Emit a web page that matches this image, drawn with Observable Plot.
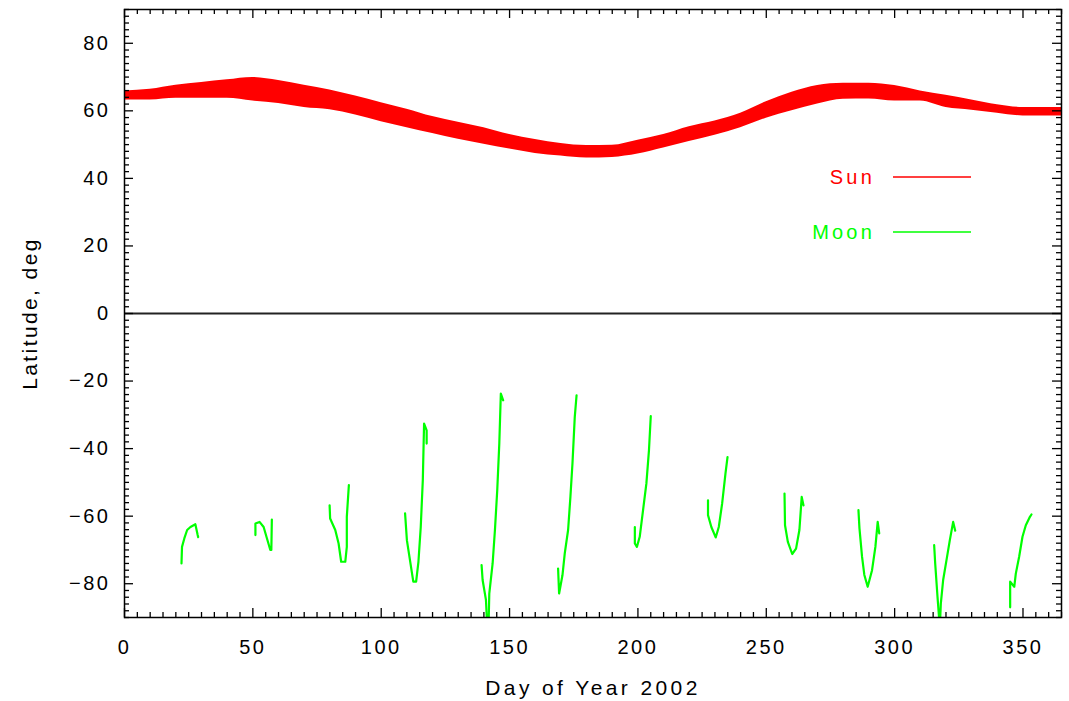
<!DOCTYPE html>
<html><head><meta charset="utf-8">
<script src="https://cdn.jsdelivr.net/npm/d3@7"></script>
<script src="https://cdn.jsdelivr.net/npm/@observablehq/plot@0.6"></script>
<style>
body{margin:0;background:#fff}
svg text{font-family:"Liberation Sans", Arial, Helvetica, sans-serif;}
</style>
</head><body><div id="chart"></div>
<script>
// ---- Sun band (latitude range per day) ----
const sunDay  = [0, 10, 20, 30, 40, 50, 60, 70, 80, 90, 100, 110, 120, 130, 140, 150, 160, 170, 180, 190, 200, 210, 220, 230, 240, 250, 260, 270, 280, 290, 300, 310, 320, 330, 340, 350, 365];
const sunHigh = [65.9, 66.4, 67.6, 68.4, 69.2, 69.9, 69.0, 67.6, 66.2, 64.4, 62.4, 60.5, 58.3, 56.6, 55.0, 53.0, 51.5, 50.3, 49.7, 49.8, 51.3, 53.0, 55.3, 57.0, 59.3, 62.7, 65.5, 67.5, 68.2, 68.2, 67.5, 65.9, 64.6, 63.2, 61.8, 61.0, 61.0];
const sunLow  = [63.2, 63.2, 63.7, 63.7, 63.7, 62.9, 62.2, 61.0, 60.3, 58.8, 56.8, 55.0, 53.3, 51.6, 50.1, 48.7, 47.4, 46.6, 46.0, 46.2, 47.2, 49.0, 50.9, 52.8, 55.0, 57.8, 60.0, 62.0, 63.4, 63.5, 62.9, 62.9, 61.0, 60.2, 59.3, 58.5, 58.5];

// ---- Moon passes ----
const moonDay = [
  22.2, 22.4, 23.3, 24.4, 25.7, 27.6, 28.5, 28.7,
  51.0, 51.0, 52.6, 54.2, 55.5, 56.8, 57.2, 57.4,
  79.9, 80.1, 82.1, 83.4, 84.4, 86.0, 86.6, 86.6, 87.4,
  109.3, 110.0, 111.2, 112.5, 113.6, 114.5, 115.4, 116.2, 116.7, 117.7, 117.7,
  139.1, 139.5, 140.8, 141.3, 141.8, 142.1, 143.4, 144.3, 145.2, 146.0, 146.6, 147.5,
  168.9, 169.3, 170.6, 171.5, 172.8, 173.7, 174.5, 175.4, 176.1,
  198.8, 198.8, 199.6, 200.7, 202.0, 203.3, 204.3, 205.0,
  227.3, 227.3, 228.6, 230.3, 231.5, 232.8, 234.1, 234.9,
  257.1, 257.3, 258.4, 260.1, 261.6, 262.9, 263.8, 264.5,
  285.9, 286.3, 287.3, 288.2, 289.5, 291.2, 292.5, 293.4, 294.0,
  315.4, 315.8, 316.7, 317.6, 318.0, 318.9, 320.2, 321.5, 322.8, 323.6,
  345.0, 345.0, 346.6, 347.2, 348.5, 349.8, 351.1, 352.7, 353.3
];
const moonLat = [
  -74.0, -69.1, -66.6, -64.1, -63.2, -62.4, -65.6, -66.2,
  -65.6, -62.2, -61.7, -63.2, -66.6, -70.0, -70.0, -61.0,
  -56.8, -60.7, -64.1, -68.1, -73.5, -73.5, -69.1, -60.2, -50.8,
  -59.2, -67.1, -73.0, -79.4, -79.4, -73.5, -63.2, -49.4, -32.6, -34.6, -38.5,
  -74.5, -78.9, -84.8, -93.0, -93.0, -82.9, -74.0, -64.1, -52.3, -38.5, -23.7, -25.7,
  -75.5, -82.9, -77.5, -71.0, -64.1, -54.3, -44.4, -30.6, -24.2,
  -63.2, -68.1, -69.1, -66.1, -58.2, -50.3, -40.5, -30.4,
  -55.3, -59.7, -63.2, -66.3, -63.2, -56.3, -47.4, -42.5,
  -53.3, -62.7, -67.6, -71.2, -69.6, -64.1, -54.3, -56.8,
  -58.2, -63.6, -72.0, -77.4, -80.9, -76.0, -69.1, -61.7, -65.1,
  -68.6, -74.0, -83.9, -93.0, -85.8, -78.9, -73.0, -67.1, -61.7, -64.3,
  -87.0, -79.4, -80.9, -77.0, -72.0, -66.1, -62.7, -60.2, -59.5
];
const moonPass = [
  1,1,1,1,1,1,1,1,
  2,2,2,2,2,2,2,2,
  3,3,3,3,3,3,3,3,3,
  4,4,4,4,4,4,4,4,4,4,4,
  5,5,5,5,5,5,5,5,5,5,5,5,
  6,6,6,6,6,6,6,6,6,
  7,7,7,7,7,7,7,7,
  8,8,8,8,8,8,8,8,
  9,9,9,9,9,9,9,9,
  10,10,10,10,10,10,10,10,10,
  11,11,11,11,11,11,11,11,11,11,
  12,12,12,12,12,12,12,12,12
];

// ---- Axes ----
const xTicks = [0, 50, 100, 150, 200, 250, 300, 350];
const yTicks = [-80, -60, -40, -20, 0, 20, 40, 60, 80];
const seriesNames = ["Sun", "Moon"];
const seriesColors = ["#ff0000", "#00ff00"];
const xLabel = "Day of Year 2002";
const yLabel = "Latitude, deg";

const sun = sunDay.map((d, i) => ({day: d, high: sunHigh[i], low: sunLow[i]}));
const moon = moonDay.map((d, i) => ({day: d, lat: moonLat[i], pass: moonPass[i]}));

const W = 1069, H = 701, mL = 124, mR = 8, mT = 9, mB = 84;
const xDom = [0, 365], yDom = [-90, 90];
const pxDay = (W - mL - mR) / (xDom[1] - xDom[0]);
const pxDeg = (H - mT - mB) / (yDom[1] - yDom[0]);
const MAJ = 9, MIN = 5;
const xMinor = d3.range(0, 366, 5);
const yMinor = d3.range(-90, 91, 2);
const xLen = d => (d % 50 === 0 ? MAJ : MIN);
const yLen = d => (d % 20 === 0 ? MAJ : MIN);

const plot = Plot.plot({
  width: W, height: H,
  marginLeft: mL, marginRight: mR, marginTop: mT, marginBottom: mB,
  x: {domain: xDom},
  y: {domain: yDom},
  style: {fontFamily: '"Liberation Sans", Arial, sans-serif', fontSize: "20px", background: "#fff"},
  marks: [
    Plot.areaY(sun, {x: "day", y1: "low", y2: "high", fill: seriesColors[0], curve: "monotone-x"}),
    Plot.line(moon, {x: "day", y: "lat", z: "pass", stroke: seriesColors[1], strokeWidth: 2.2, clip: true}),
    Plot.ruleY([0], {stroke: "#222", strokeWidth: 2}),
    // inward ticks
    Plot.ruleX(xMinor, {x: d => d, y1: yDom[0], y2: d => yDom[0] + xLen(d) / pxDeg, stroke: "#000", strokeWidth: 1.3}),
    Plot.ruleX(xMinor, {x: d => d, y1: yDom[1], y2: d => yDom[1] - xLen(d) / pxDeg, stroke: "#000", strokeWidth: 1.3}),
    Plot.ruleY(yMinor, {y: d => d, x1: xDom[0], x2: d => xDom[0] + yLen(d) / pxDay, stroke: "#000", strokeWidth: 1.3}),
    Plot.ruleY(yMinor, {y: d => d, x1: xDom[1], x2: d => xDom[1] - yLen(d) / pxDay, stroke: "#000", strokeWidth: 1.3}),
    Plot.axisX(xTicks, {tickSize: 0, tickPadding: 22, fontSize: 20, label: null}),
    Plot.axisY(yTicks, {tickSize: 0, tickPadding: 14, fontSize: 20, label: null}),
    Plot.frame({stroke: "#000", strokeWidth: 1.5}),
    Plot.text([xLabel], {frameAnchor: "bottom", dy: 71, fontSize: 21, textAnchor: "middle", lineAnchor: "middle"}),
    Plot.text([yLabel], {frameAnchor: "left", dx: -94, rotate: -90, fontSize: 21, textAnchor: "middle", lineAnchor: "middle"})
  ]
});

const svg = d3.select(plot);
svg.selectAll("text").filter(function() { return this.textContent === xLabel; }).attr("letter-spacing", "3.4px");
svg.selectAll("text").filter(function() { return this.textContent === yLabel; }).attr("letter-spacing", "2.4px");
svg.selectAll("g[aria-label='x-axis tick label'] text, g[aria-label='y-axis tick label'] text").attr("letter-spacing", "2.5px");

// legend
const legendRows = [{y: 177}, {y: 232}];
seriesNames.forEach((name, i) => {
  const yy = legendRows[i].y;
  svg.append("text").attr("x", 875).attr("y", yy).attr("dy", "0.35em")
    .attr("text-anchor", "end").attr("fill", seriesColors[i])
    .attr("font-size", 20).attr("letter-spacing", "3.2px").text(name);
  svg.append("line").attr("x1", 893).attr("x2", 971).attr("y1", yy).attr("y2", yy)
    .attr("stroke", seriesColors[i]).attr("stroke-width", 1.6);
});

document.getElementById("chart").appendChild(plot);
</script>
</body></html>
